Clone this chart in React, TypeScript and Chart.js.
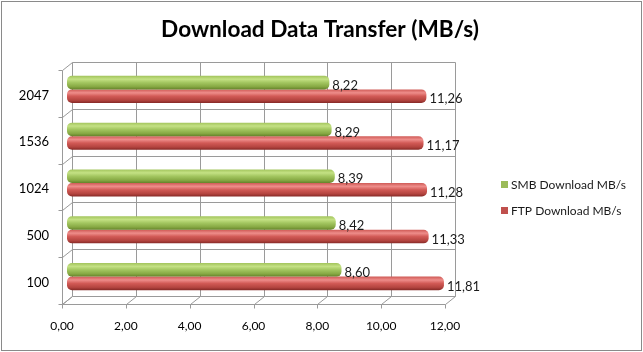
import React, { useEffect, useRef } from 'react';
import { Chart, registerables } from 'chart.js';

Chart.register(...registerables);

const categories = ['100', '500', '1024', '1536', '2047'];
const smbValues = [8.6, 8.42, 8.39, 8.29, 8.22];
const ftpValues = [11.81, 11.33, 11.28, 11.17, 11.26];
const seriesNames = ['SMB Download MB/s', 'FTP Download MB/s'];
const xMin = 0;
const xMax = 12;
const xStep = 2;
const titleText = 'Download Data Transfer (MB/s)';

const FONT = 'Lato, "Open Sans", "DejaVu Sans", sans-serif';
const DX = 5;
const DY = 4;
const GRID = '#9a9a9a';
const fmt = (v: number) => v.toFixed(2).replace('.', ',');

const keyColors = ['#9bbb59', '#c0504d'];
const gradStops = [
  ['#a2c45c', '#c4e184', '#a3c660', '#86a843', '#64822a'],
  ['#cf5a56', '#ee8d8a', '#d25a56', '#b3443f', '#852926'],
];

const decorPlugin = {
  id: 'decor',
  beforeDraw(chart: any) {
    const { ctx, width, height } = chart;
    ctx.save();
    ctx.fillStyle = '#ffffff';
    ctx.fillRect(0, 0, width, height);
    ctx.strokeStyle = '#8a8a8a';
    ctx.lineWidth = 1;
    ctx.strokeRect(1.5, 1.5, width - 3, height - 3);
    ctx.fillStyle = '#000';
    ctx.font = `bold 22.6px ${FONT}`;
    ctx.textAlign = 'center';
    ctx.textBaseline = 'middle';
    ctx.fillText(titleText, 320, 30);
    ctx.restore();
  },
  beforeDatasetsDraw(chart: any) {
    const { ctx, chartArea, scales } = chart;
    const xs = scales.x;
    const { top, bottom } = chartArea;
    const x0 = xs.getPixelForValue(xMin);
    const x1 = xs.getPixelForValue(xMax);
    const n = categories.length;
    const band = (bottom - top) / n;
    ctx.save();
    ctx.strokeStyle = GRID;
    ctx.lineWidth = 1;
    const line = (ax: number, ay: number, bx: number, by: number) => {
      ctx.beginPath();
      ctx.moveTo(Math.round(ax) + 0.5, Math.round(ay) + 0.5);
      ctx.lineTo(Math.round(bx) + 0.5, Math.round(by) + 0.5);
      ctx.stroke();
    };
    for (let v = xMin; v <= xMax; v += xStep) {
      const px = xs.getPixelForValue(v);
      line(px + DX, top - DY, px + DX, bottom - DY);
      line(px - DX, bottom + DY, px + DX, bottom - DY);
      line(px - DX, bottom + DY, px - DX, bottom + DY + 4);
    }
    for (let i = 0; i <= n; i++) {
      const py = top + i * band;
      line(x0 + DX, py - DY, x1 + DX, py - DY);
      line(x0 - DX, py + DY, x0 + DX, py - DY);
      line(x0 - DX - 4, py + DY, x0 - DX, py + DY);
    }
    line(x0 - DX, top + DY, x0 - DX, bottom + DY);
    line(x0 - DX, bottom + DY, x1 - DX, bottom + DY);
    ctx.restore();

    chart.data.datasets.forEach((ds: any, di: number) => {
      const meta = chart.getDatasetMeta(di);
      meta.data.forEach((el: any) => {
        const h = el.height;
        const t = el.y - h / 2;
        const g = ctx.createLinearGradient(0, t, 0, t + h);
        const st = gradStops[di];
        g.addColorStop(0, st[0]);
        g.addColorStop(0.25, st[1]);
        g.addColorStop(0.5, st[2]);
        g.addColorStop(0.8, st[3]);
        g.addColorStop(1, st[4]);
        el.options = { ...el.options, backgroundColor: g };
      });
    });
  },
  afterDatasetsDraw(chart: any) {
    const { ctx } = chart;
    ctx.save();
    ctx.font = `13px ${FONT}`;
    ctx.fillStyle = '#1a1a1a';
    ctx.textAlign = 'left';
    ctx.textBaseline = 'middle';
    chart.data.datasets.forEach((ds: any, di: number) => {
      const meta = chart.getDatasetMeta(di);
      meta.data.forEach((el: any, i: number) => {
        ctx.fillText(fmt(ds.data[i]), el.x + 3, el.y + 3);
      });
    });
    ctx.font = `12px ${FONT}`;
    const lx = 501;
    const ly = [185, 211];
    chart.data.datasets.forEach((ds: any, di: number) => {
      ctx.fillStyle = keyColors[di];
      ctx.fillRect(lx, ly[di] - 4, 7, 7);
      ctx.fillStyle = '#1a1a1a';
      ctx.fillText(ds.label, lx + 10, ly[di]);
    });
    ctx.restore();
  },
};

export default function App() {
  const ref = useRef<HTMLCanvasElement | null>(null);
  useEffect(() => {
    if (!ref.current) return;
    const chart = new Chart(ref.current, {
      type: 'bar',
      data: {
        labels: categories,
        datasets: [
          {
            label: seriesNames[0],
            data: smbValues,
            backgroundColor: keyColors[0],
            borderWidth: 0,
            borderRadius: 5,
            borderSkipped: false,
            categoryPercentage: 0.58,
            barPercentage: 1,
          },
          {
            label: seriesNames[1],
            data: ftpValues,
            backgroundColor: keyColors[1],
            borderWidth: 0,
            borderRadius: 5,
            borderSkipped: false,
            categoryPercentage: 0.58,
            barPercentage: 1,
          },
        ],
      },
      options: {
        indexAxis: 'y',
        animation: false,
        responsive: false,
        maintainAspectRatio: false,
        devicePixelRatio: 1,
        layout: { padding: { top: 66, right: 193, left: 0, bottom: 0 } },
        plugins: {
          legend: { display: false },
          title: { display: false },
          tooltip: { enabled: false },
        },
        scales: {
          x: {
            type: 'linear',
            min: xMin,
            max: xMax,
            grid: { display: false, drawTicks: false },
            border: { display: false },
            ticks: {
              stepSize: xStep,
              callback: (v: any) => fmt(Number(v)),
              font: { family: FONT, size: 12 },
              color: '#000',
              padding: 19,
              labelOffset: -DX,
              maxRotation: 0,
            },
            afterFit: (s: any) => {
              s.height = 52;
            },
          },
          y: {
            reverse: true,
            grid: { display: false, drawTicks: false },
            border: { display: false },
            ticks: {
              font: { family: FONT, size: 13 },
              color: '#000',
              padding: 18,
              labelOffset: 6,
            },
            afterFit: (s: any) => {
              s.width = 67;
            },
          },
        },
      },
      plugins: [decorPlugin],
    } as any);
    return () => chart.destroy();
  }, []);
  return (
    <div style={{ position: 'absolute', left: 0, top: 0, width: 643, height: 352 }}>
      <canvas ref={ref} width={643} height={352} style={{ width: 643, height: 352, display: 'block' }} />
    </div>
  );
}
